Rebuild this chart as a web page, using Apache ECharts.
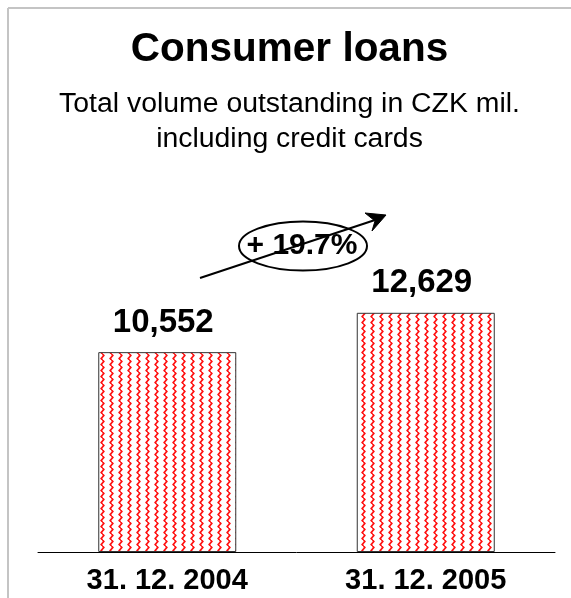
<!DOCTYPE html>
<html>
<head>
<meta charset="utf-8">
<title>Consumer loans</title>
<script src="https://cdn.jsdelivr.net/npm/echarts@6/dist/echarts.min.js"></script>
<style>
  html, body { margin: 0; padding: 0; background: #ffffff; }
  #chart { width: 571px; height: 598px; }
</style>
</head>
<body>
<div id="chart"></div>
<script>
// Reporting dates and outstanding volume (CZK mil.)
var categories = ['31. 12. 2004', '31. 12. 2005'];
var volumes = [10552, 12629];

var titleText = 'Consumer loans';
var subtitleLines = ['Total volume outstanding in CZK mil.', 'including credit cards'];

var FONT = '"Liberation Sans", Arial, sans-serif';

// Year-on-year growth shown in the annotation bubble
var growthPct = (volumes[1] / volumes[0] - 1) * 100;
var growthText = '+ ' + growthPct.toFixed(1) + '%';

// Red wavy vertical hatching used as the bar fill
function makeHatch() {
  var c = document.createElement('canvas');
  c.width = 9; c.height = 6;
  var g = c.getContext('2d');
  g.fillStyle = '#ffffff';
  g.fillRect(0, 0, 9, 6);
  g.strokeStyle = '#ff1010';
  g.lineWidth = 1.7;
  g.beginPath();
  g.moveTo(3.5, 0);
  g.lineTo(4.8, 1.5);
  g.lineTo(3.5, 3);
  g.lineTo(2.2, 4.5);
  g.lineTo(3.5, 6);
  g.stroke();
  return c;
}

var chart = echarts.init(document.getElementById('chart'), null, { renderer: 'canvas' });

chart.setOption({
  backgroundColor: '#ffffff',
  animation: false,
  title: {
    text: titleText,
    subtext: subtitleLines.join('\n'),
    left: 289.5,
    textAlign: 'center',
    padding: 0,
    top: 29,
    itemGap: 16,
    textStyle: { fontFamily: FONT, fontSize: 40.5, fontWeight: 'bold', color: '#000', lineHeight: 42 },
    subtextStyle: { fontFamily: FONT, fontSize: 28.4, color: '#000', lineHeight: 35, align: 'center' }
  },
  grid: { left: 38, right: 16, top: 173.2, bottom: 46, containLabel: false },
  xAxis: {
    type: 'category',
    data: categories,
    axisLine: { show: true, lineStyle: { color: '#000', width: 1 } },
    axisTick: { show: false },
    axisLabel: { fontFamily: FONT, fontSize: 29, fontWeight: 'bold', color: '#000', margin: 14 }
  },
  yAxis: {
    type: 'value',
    min: 0,
    max: 20000,
    show: false,
    splitLine: { show: false }
  },
  series: [{
    type: 'bar',
    data: volumes,
    barWidth: 138,
    itemStyle: {
      color: { image: makeHatch(), repeat: 'repeat' },
      borderColor: '#333',
      borderWidth: 1
    },
    label: {
      show: true,
      position: 'top',
      distance: 14,
      offset: [-4, 1],
      fontFamily: FONT,
      fontSize: 33,
      fontWeight: 'bold',
      color: '#000',
      formatter: function (p) { return p.value.toLocaleString('en-US'); }
    }
  }],
  graphic: [
    // frame lines along the top and left edge
    { type: 'line', shape: { x1: 8, y1: 8, x2: 571, y2: 8 }, style: { stroke: '#c4c4c4', lineWidth: 2 } },
    { type: 'line', shape: { x1: 8, y1: 8, x2: 8, y2: 598 }, style: { stroke: '#c4c4c4', lineWidth: 2 } },
    // growth arrow with a solid head
    { type: 'line', shape: { x1: 200, y1: 278, x2: 378, y2: 219 }, style: { stroke: '#000', lineWidth: 2 } },
    { type: 'polygon', shape: { points: [[386, 215], [365, 213], [375, 221], [372, 231]] }, style: { fill: '#000', stroke: '#000', lineWidth: 1 } },
    // bubble with growth figure
    { type: 'ellipse', shape: { cx: 303, cy: 246, rx: 64, ry: 24.5 }, style: { stroke: '#000', lineWidth: 2, fill: null } },
    { type: 'text', x: 302, y: 246, style: { text: growthText, fontFamily: FONT, fontSize: 30, fontWeight: 'bold', fill: '#000', align: 'center', verticalAlign: 'middle' } }
  ]
});
</script>
</body>
</html>
